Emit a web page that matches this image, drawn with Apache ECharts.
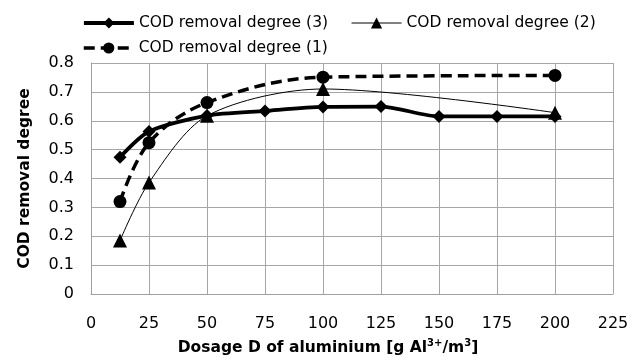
<!DOCTYPE html>
<html><head><meta charset="utf-8">
<script src="https://cdn.jsdelivr.net/npm/echarts@6/dist/echarts.min.js"></script>
<style>html,body{margin:0;padding:0;background:#fff}#c{width:642px;height:363px}</style>
</head><body><div id="c"></div>
<script>
const dosage3 = [12.5, 25, 50, 75, 100, 125, 150, 175, 200];
const removal3 = [0.474, 0.563, 0.618, 0.634, 0.648, 0.649, 0.615, 0.615, 0.615];
const dosage2 = [12.5, 25, 50, 100, 200];
const removal2 = [0.185, 0.386, 0.617, 0.71, 0.628];
const dosage1 = [12.5, 25, 50, 100, 200];
const removal1 = [0.32, 0.524, 0.663, 0.751, 0.757];
const seriesNames = ['COD removal degree (3)', 'COD removal degree (2)', 'COD removal degree (1)'];
const xTicks = [0, 25, 50, 75, 100, 125, 150, 175, 200, 225];
const yTicks = [0, 0.1, 0.2, 0.3, 0.4, 0.5, 0.6, 0.7, 0.8];

const zip = (xs, ys) => xs.map((x, i) => [x, ys[i]]);
const FONT = 'DejaVu Sans';
const chart = echarts.init(document.getElementById('c'), null, {renderer: 'canvas'});
const legendText = {fontFamily: FONT, fontSize: 15.5, color: '#000'};
chart.setOption({
  animation: false,
  backgroundColor: '#fff',
  textStyle: {fontFamily: FONT},
  legend: [
    {data: [{name: seriesNames[0], lineStyle: {width: 3.8}}, {name: seriesNames[1], lineStyle: {width: 1}}],
     left: 77, top: 10, itemWidth: 50, itemHeight: 14, itemGap: 23, textStyle: legendText},
    {data: [{name: seriesNames[2], lineStyle: {width: 3.5, type: [11, 6]}}],
     left: 77, top: 35, itemWidth: 50, itemHeight: 14, textStyle: legendText}
  ],
  grid: {left: 91, right: 29, top: 63, bottom: 67, containLabel: false},
  xAxis: {
    type: 'value', min: xTicks[0], max: xTicks[xTicks.length - 1], interval: 25,
    name: 'Dosage D of aluminium [g Al{sup|3+}/m{sup|3}]', nameLocation: 'middle', nameGap: 44,
    nameTextStyle: {fontFamily: FONT, fontSize: 15.5, fontWeight: 'bold', color: '#000', lineHeight: 20,
      padding: [0, 48, 0, 0],
      rich: {sup: {fontFamily: FONT, fontSize: 10, fontWeight: 'bold', color: '#000', verticalAlign: 'top', lineHeight: 20, padding: [0, 0, 8, 0]}}},
    axisLine: {show: true, lineStyle: {color: '#a0a0a0', width: 1}},
    axisTick: {show: false},
    axisLabel: {margin: 22, fontFamily: FONT, fontSize: 16, color: '#000'},
    splitLine: {show: true, lineStyle: {color: '#a6a6a6', width: 1}}
  },
  yAxis: {
    type: 'value', min: yTicks[0], max: yTicks[yTicks.length - 1], interval: 0.1,
    name: 'COD removal degree', nameLocation: 'middle', nameGap: 58,
    nameTextStyle: {fontFamily: FONT, fontSize: 15.5, fontWeight: 'bold', color: '#000'},
    axisLine: {show: true, lineStyle: {color: '#a0a0a0', width: 1}},
    axisTick: {show: false},
    axisLabel: {margin: 17, fontFamily: FONT, fontSize: 16, color: '#000', padding: [5, 0, 0, 0],
      formatter: v => (Math.round(v * 10) / 10).toString()},
    splitLine: {show: true, lineStyle: {color: '#a6a6a6', width: 1}}
  },
  series: [
    {name: seriesNames[0], type: 'line', data: zip(dosage3, removal3), smooth: 0.25,
     symbol: 'diamond', symbolSize: 13, itemStyle: {color: '#000'},
     lineStyle: {color: '#000', width: 3.8}, z: 3},
    {name: seriesNames[1], type: 'line', data: zip(dosage2, removal2), smooth: 0.3,
     symbol: 'triangle', symbolSize: 14, itemStyle: {color: '#000'},
     lineStyle: {color: '#000', width: 1}, z: 2},
    {name: seriesNames[2], type: 'line', data: zip(dosage1, removal1), smooth: 0.35,
     symbol: 'circle', symbolSize: 13, itemStyle: {color: '#000'},
     lineStyle: {color: '#000', width: 3.5, type: [11, 6]}, z: 4}
  ]
});
</script></body></html>
